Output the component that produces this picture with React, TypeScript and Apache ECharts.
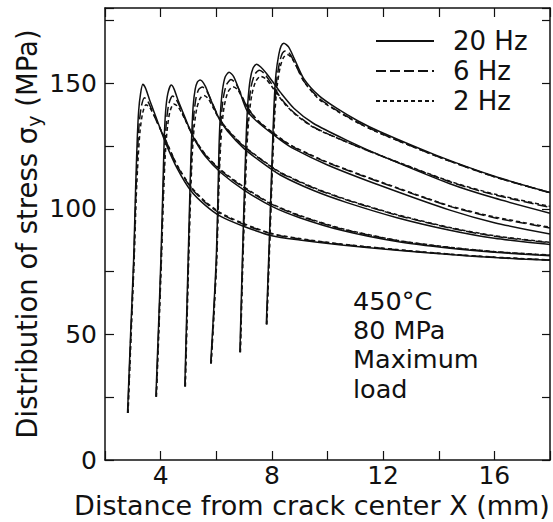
import React, { useEffect, useRef } from "react";
import * as echarts from "echarts";

// Stress distribution sigma_y ahead of six successive crack-tip positions,
// for three loading frequencies. Each entry is [x (mm), stress (MPa)].
const tip1_20Hz = [[2.81,18.7],[2.92,50],[3.03,80],[3.10,108],[3.16,128],[3.21,139],[3.28,146],[3.36,149.6],[3.46,148],[3.6,143.5],[3.75,139],[3.9,134.5],[4.19,126],[4.6,116],[5.08,107.3],[5.6,101.5],[6.16,97],[7,93],[8,89.3],[9,87.6],[10.5,85.6],[12.5,83.5],[14.4,81.8],[16,80.6],[18,79.5]];
const tip1_6Hz = [[2.82,18.7],[2.93,50],[3.04,80],[3.11,106],[3.17,123],[3.23,134],[3.31,141],[3.42,144.3],[3.53,143],[3.68,139.5],[3.85,135],[4.19,127],[4.6,117],[5.08,108.6],[5.6,102.6],[6.16,98],[7,93.8],[8,90],[9,88],[10.5,85.9],[12.5,83.7],[14.4,81.9],[16,80.7],[18,79.6]];
const tip1_2Hz = [[2.83,18.7],[2.94,50],[3.05,80],[3.12,104],[3.19,120],[3.26,131],[3.35,138],[3.47,141.5],[3.6,140.5],[3.75,137.5],[3.9,134],[4.19,127.2],[4.6,117.3],[5.08,109],[5.6,103],[6.16,98.4],[7,94.1],[8,90.2],[9,88.2],[10.5,86],[12.5,83.8],[14.4,82],[16,80.8],[18,79.7]];

const tip2_20Hz = [[3.83,25.2],[3.92,52],[4.01,80],[4.08,108],[4.13,128],[4.18,139],[4.26,146],[4.38,149.3],[4.48,147.8],[4.62,143.5],[4.8,138.5],[5.0,133],[5.2,128],[5.6,121],[6.16,114.5],[7,107.5],[8,101],[9,96.5],[10.5,91.5],[12.5,87],[14.4,84.3],[16,82.7],[18,81.3]];
const tip2_6Hz = [[3.84,25.2],[3.93,52],[4.02,80],[4.09,106],[4.15,124],[4.21,135],[4.3,142],[4.43,145],[4.55,143.8],[4.7,140.5],[4.85,136.5],[5.0,132.8],[5.2,128.2],[5.6,121.6],[6.16,115.3],[7,108.4],[8,101.8],[9,97.2],[10.5,92],[12.5,87.4],[14.4,84.6],[16,82.9],[18,81.5]];
const tip2_2Hz = [[3.85,25.2],[3.94,52],[4.03,80],[4.1,104],[4.16,120],[4.23,131],[4.33,138.5],[4.47,141.8],[4.6,141],[4.75,138.5],[4.9,135],[5.05,131.5],[5.2,128.3],[5.6,121.8],[6.16,115.6],[7,108.7],[8,102],[9,97.4],[10.5,92.2],[12.5,87.5],[14.4,84.7],[16,83],[18,81.6]];

const tip3_20Hz = [[4.87,29.3],[4.93,55],[4.99,80],[5.06,110],[5.12,130],[5.17,141],[5.24,147.5],[5.32,150.5],[5.42,151.3],[5.6,149],[5.8,143.5],[6.1,136],[6.4,131],[7,124],[7.7,118],[8.3,113.5],[9.5,107.3],[10.7,102.5],[12.5,96.5],[14.4,91.5],[16,88.3],[18,85.8]];
const tip3_6Hz = [[4.88,29.3],[4.94,55],[5.0,80],[5.07,108],[5.13,126],[5.19,137],[5.27,144],[5.37,147.6],[5.5,148.5],[5.68,146.5],[5.88,141.5],[6.1,136.3],[6.4,131.5],[7,124.8],[7.7,118.9],[8.3,114.4],[9.5,108.3],[10.7,103.5],[12.5,97.5],[14.4,92.4],[16,89.1],[18,86.5]];
const tip3_2Hz = [[4.89,29.3],[4.95,55],[5.01,80],[5.08,106],[5.14,122],[5.21,133],[5.3,140],[5.42,144],[5.56,145.2],[5.72,143.8],[5.9,140],[6.1,136],[6.4,131.7],[7,125],[7.7,119.1],[8.3,114.6],[9.5,108.5],[10.7,103.7],[12.5,97.7],[14.4,92.6],[16,89.3],[18,86.7]];

const tip4_20Hz = [[5.8,38.4],[5.9,58],[6.0,80],[6.06,105],[6.1,125],[6.15,138],[6.22,147],[6.32,152.5],[6.46,154.4],[6.62,152.8],[6.82,147.5],[7.11,139],[7.5,134.5],[8.3,127.5],[8.78,124],[10,117.5],[11.9,109.3],[14.4,99.5],[16,94.5],[18,90]];
const tip4_6Hz = [[5.81,38.4],[5.91,58],[6.01,80],[6.07,104],[6.12,122],[6.17,135],[6.25,144],[6.37,149.5],[6.53,151.5],[6.7,150],[6.9,145.5],[7.11,140.5],[7.5,135],[8.3,128],[8.78,124.6],[10,118.4],[11.9,110.6],[14.4,101],[16,96.5],[18,92.4]];
const tip4_2Hz = [[5.82,38.4],[5.92,58],[6.02,80],[6.08,103],[6.13,119],[6.19,131],[6.28,140.5],[6.42,146.5],[6.6,148.6],[6.77,147.5],[6.95,144],[7.15,140],[7.5,135.2],[8.3,128.2],[8.78,124.8],[10,118.6],[11.9,110.8],[14.4,101.2],[16,96.8],[18,92.7]];

const tip5_20Hz = [[6.85,42.9],[6.94,80],[7.02,110],[7.08,130],[7.14,143],[7.22,151.5],[7.32,156],[7.45,157.6],[7.6,156.5],[7.8,154],[8.07,150],[8.3,146.5],[8.8,140],[9.5,134],[10.7,127.3],[11.9,121.3],[14.4,110],[16,104.3],[18,98.3]];
const tip5_6Hz = [[6.86,42.9],[6.95,80],[7.03,108],[7.09,127],[7.16,140],[7.25,148.5],[7.38,153.5],[7.55,155.2],[7.72,154],[7.92,151],[8.15,147],[8.4,143],[8.8,138.3],[9.5,132.6],[10.7,126.6],[11.9,121.2],[14.4,110.8],[16,105.6],[18,100.6]];
const tip5_2Hz = [[6.87,42.9],[6.96,80],[7.04,106],[7.1,124],[7.18,137],[7.28,145.5],[7.42,150.8],[7.6,152.8],[7.78,151.8],[7.98,149],[8.2,145.5],[8.45,142],[8.8,138],[9.5,132.4],[10.7,126.6],[11.9,121.3],[14.4,111],[16,105.9],[18,101]];

const tip6_20Hz = [[7.8,54],[7.9,85],[8.0,118],[8.08,142],[8.15,154],[8.25,161.5],[8.33,164.8],[8.43,166],[8.6,164.5],[8.8,160],[9.14,152],[9.7,145],[10.34,140],[11.1,135],[11.89,130.7],[13.92,121.3],[16,113],[18,106.5]];
const tip6_6Hz = [[7.81,54],[7.91,85],[8.01,117],[8.09,139],[8.17,151],[8.28,158.5],[8.38,162],[8.5,163],[8.66,161.5],[8.85,157.5],[9.14,151],[9.7,144],[10.34,139.2],[11.1,134.4],[11.89,130.2],[13.92,121],[16,112.8],[18,106.4]];
const tip6_2Hz = [[7.82,54],[7.92,85],[8.02,116],[8.1,137],[8.19,149],[8.3,156.5],[8.42,160.3],[8.55,161.5],[8.7,160.3],[8.9,156.5],[9.2,150],[9.7,143.6],[10.34,139],[11.1,134.2],[11.89,130.1],[13.92,121],[16,112.8],[18,106.5]];

const frequencies = ["20 Hz", "6 Hz", "2 Hz"];
const curves20Hz = [tip1_20Hz, tip2_20Hz, tip3_20Hz, tip4_20Hz, tip5_20Hz, tip6_20Hz];
const curves6Hz = [tip1_6Hz, tip2_6Hz, tip3_6Hz, tip4_6Hz, tip5_6Hz, tip6_6Hz];
const curves2Hz = [tip1_2Hz, tip2_2Hz, tip3_2Hz, tip4_2Hz, tip5_2Hz, tip6_2Hz];
const conditionLines = ["450°C", "80 MPa", "Maximum", "load"];

const FONT = '"DejaVu Sans", "Liberation Sans", Arial, sans-serif';
const INK = "#111";

export default function App() {
  const ref = useRef<HTMLDivElement>(null);

  useEffect(() => {
    if (!ref.current) return;
    const chart = echarts.init(ref.current, undefined, { renderer: "svg" });

    const dashFor: Record<string, any> = {
      "20 Hz": "solid",
      "6 Hz": [10, 4],
      "2 Hz": [4, 3],
    };
    const groups: [string, number[][][]][] = [
      [frequencies[0], curves20Hz],
      [frequencies[1], curves6Hz],
      [frequencies[2], curves2Hz],
    ];
    const series: any[] = [];
    groups.forEach(([name, curves]) => {
      curves.forEach((data) => {
        series.push({
          name,
          type: "line",
          data,
          symbol: "none",
          showSymbol: false,
          smooth: 0.25,
          xAxisIndex: 0,
          yAxisIndex: 0,
          lineStyle: { color: INK, width: 1.5, type: dashFor[name] },
          itemStyle: { color: INK },
          emphasis: { disabled: true },
        });
      });
    });

    const axisLine = { show: true, onZero: false, lineStyle: { color: INK, width: 1.5 } };
    const tick = (len: number) => ({ show: true, inside: true, length: len, lineStyle: { color: INK, width: 1.2 } });

    chart.setOption({
      animation: false,
      backgroundColor: "#fff",
      grid: { left: 105, right: 3, top: 8, bottom: 62, containLabel: false, outerBoundsMode: "none" },
      legend: {
        data: frequencies,
        orient: "vertical",
        left: 375,
        top: 26,
        padding: 0,
        itemWidth: 58,
        itemHeight: 14,
        itemGap: 0,
        selectedMode: false,
        itemStyle: { opacity: 0 },
        formatter: "{g| }{name}",
        textStyle: {
          fontFamily: FONT,
          fontSize: 26,
          color: INK,
          lineHeight: 30,
          rich: { g: { width: 14, fontSize: 26, lineHeight: 30 } },
        },
      },
      xAxis: [
        {
          type: "value",
          min: 2,
          max: 18,
          interval: 2,
          position: "bottom",
          axisLine,
          axisTick: tick(9),
          splitLine: { show: false },
          axisLabel: {
            margin: 3,
            color: INK,
            fontFamily: FONT,
            fontSize: 25,
            formatter: (v: number) => (v % 4 === 0 ? String(v) : ""),
          },
          name: "Distance from crack center X (mm)",
          nameLocation: "middle",
          nameGap: 32,
          nameMoveOverlap: false,
          nameTextStyle: { fontFamily: FONT, fontSize: 27, color: INK, padding: [0, 31, 0, 0] },
        },
        {
          type: "value",
          min: 2,
          max: 18,
          interval: 2,
          position: "top",
          axisLine,
          axisTick: tick(9),
          axisLabel: { show: false },
          splitLine: { show: false },
        },
      ],
      yAxis: [
        {
          type: "value",
          min: 0,
          max: 180,
          interval: 25,
          position: "left",
          axisLine,
          axisTick: tick(9),
          splitLine: { show: false },
          axisLabel: {
            margin: 8,
            color: INK,
            fontFamily: FONT,
            fontSize: 25,
            formatter: (v: number) => (v % 50 === 0 ? String(v) : ""),
          },
          name: "{t|Distribution of stress }{s|σ}{sub|y}{t| (MPa)}",
          nameLocation: "middle",
          nameRotate: 90,
          nameGap: 62,
          nameMoveOverlap: false,
          nameTextStyle: {
            fontFamily: FONT,
            fontSize: 27.5,
            color: INK,
            padding: [0, 0, 0, 0],
            rich: {
              t: { fontFamily: FONT, fontSize: 27.5, color: INK },
              s: { fontFamily: FONT, fontSize: 27.5, color: INK },
              sub: { fontFamily: FONT, fontSize: 19, color: INK, padding: [13, 0, 0, 0] },
            },
          },
        },
        {
          type: "value",
          min: 0,
          max: 180,
          interval: 25,
          position: "right",
          axisLine,
          axisTick: tick(8),
          axisLabel: { show: false },
          splitLine: { show: false },
        },
      ],
      graphic: [
        {
          type: "text",
          left: 353,
          top: 286,
          style: {
            text: conditionLines.join("\n"),
            fontFamily: FONT,
            fontSize: 25.5,
            lineHeight: 29.3,
            fill: INK,
          },
        },
      ],
      series,
    });

    return () => chart.dispose();
  }, []);

  return (
    <div
      ref={ref}
      style={{ position: "fixed", left: 0, top: 0, width: 553, height: 522, background: "#fff" }}
    />
  );
}
